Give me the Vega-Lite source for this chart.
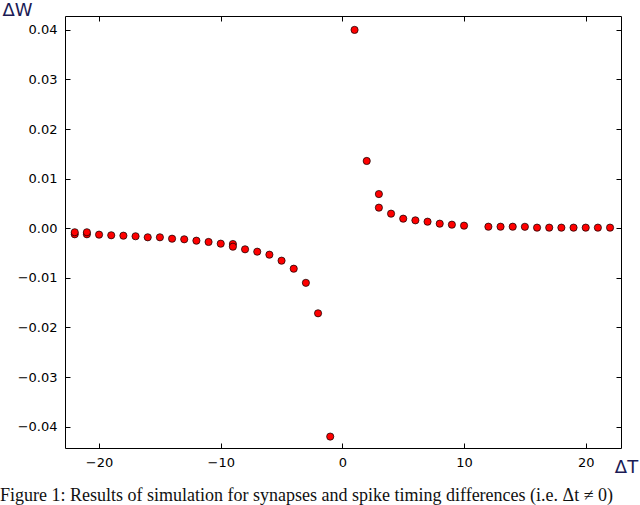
{
  "$schema": "https://vega.github.io/schema/vega-lite/v6.json",
  "width": 556,
  "height": 432,
  "autosize": "none",
  "padding": {"left": 65, "top": 16, "right": 19, "bottom": 57},
  "background": "white",
  "title": {
    "text": "Figure 1: Results of simulation for synapses and spike timing differences (i.e. Δt ≠ 0)",
    "orient": "bottom",
    "anchor": "start",
    "frame": "group",
    "font": "Liberation Serif",
    "fontSize": 18,
    "fontWeight": "normal",
    "color": "#111111",
    "dx": -65,
    "offset": 11
  },
  "data": {
    "values": [
      {"dt": -22, "dw": -0.00121}, {"dt": -22, "dw": -0.0008},
      {"dt": -21, "dw": -0.00121}, {"dt": -21, "dw": -0.0008},
      {"dt": -20, "dw": -0.00128},
      {"dt": -19, "dw": -0.00141},
      {"dt": -18, "dw": -0.00149},
      {"dt": -17, "dw": -0.00161},
      {"dt": -16, "dw": -0.00182},
      {"dt": -15, "dw": -0.00182},
      {"dt": -14, "dw": -0.0021},
      {"dt": -13, "dw": -0.00222},
      {"dt": -12, "dw": -0.0025},
      {"dt": -11, "dw": -0.00276},
      {"dt": -10, "dw": -0.0031},
      {"dt": -9, "dw": -0.00317}, {"dt": -9, "dw": -0.00371},
      {"dt": -8, "dw": -0.00424},
      {"dt": -7, "dw": -0.00472},
      {"dt": -6, "dw": -0.00532},
      {"dt": -5, "dw": -0.00653},
      {"dt": -4, "dw": -0.00815},
      {"dt": -3, "dw": -0.011},
      {"dt": -2, "dw": -0.01714},
      {"dt": -1, "dw": -0.042},
      {"dt": 1, "dw": 0.04},
      {"dt": 2, "dw": 0.01357},
      {"dt": 3, "dw": 0.0069}, {"dt": 3, "dw": 0.00416},
      {"dt": 4, "dw": 0.00295},
      {"dt": 5, "dw": 0.00194},
      {"dt": 6, "dw": 0.0016},
      {"dt": 7, "dw": 0.00133},
      {"dt": 8, "dw": 0.00093},
      {"dt": 9, "dw": 0.00073},
      {"dt": 10, "dw": 0.00053},
      {"dt": 12, "dw": 0.00032},
      {"dt": 13, "dw": 0.00032},
      {"dt": 14, "dw": 0.00032},
      {"dt": 15, "dw": 0.0003},
      {"dt": 16, "dw": 0.00013},
      {"dt": 17, "dw": 0.00013},
      {"dt": 18, "dw": 0.00013},
      {"dt": 19, "dw": 0.00013},
      {"dt": 20, "dw": 0.00013},
      {"dt": 21, "dw": 0.00013},
      {"dt": 22, "dw": 0.00013}
    ]
  },
  "layer": [
    {
      "mark": {"type": "point", "shape": "circle", "filled": true, "size": 52, "fill": "#ff0000", "stroke": "#000000", "strokeWidth": 0.7, "opacity": 1},
      "encoding": {
        "x": {
          "field": "dt", "type": "quantitative",
          "scale": {"domain": [-22.8, 22.9], "nice": false, "zero": false},
          "axis": {
            "orient": "bottom",
            "values": [-20, -10, 0, 10, 20],
            "format": "d",
            "title": "ΔT",
            "titleAngle": 0,
            "titleX": 561,
            "titleY": 24,
            "titleAlign": "center",
            "titleBaseline": "middle",
            "titleFont": "DejaVu Sans",
            "titleFontSize": 18,
            "titleFontWeight": "normal",
            "titleColor": "#1b1b55"
          }
        },
        "y": {
          "field": "dw", "type": "quantitative",
          "scale": {"domain": [-0.0443, 0.0428], "nice": false, "zero": false},
          "axis": {
            "orient": "left",
            "values": [-0.04, -0.03, -0.02, -0.01, 0, 0.01, 0.02, 0.03, 0.04],
            "format": ".2f",
            "title": "ΔW",
            "titleAngle": 0,
            "titleX": -53,
            "titleY": -6,
            "titleAlign": "center",
            "titleBaseline": "middle",
            "titleFont": "DejaVu Sans",
            "titleFontSize": 18,
            "titleFontWeight": "normal",
            "titleColor": "#1b1b55"
          }
        }
      }
    },
    {
      "mark": {"type": "point", "opacity": 0},
      "encoding": {
        "x": {"field": "dt", "type": "quantitative", "axis": {"orient": "top", "values": [-20, -10, 0, 10, 20], "labels": false, "title": null}},
        "y": {"field": "dw", "type": "quantitative", "axis": {"orient": "right", "values": [-0.04, -0.03, -0.02, -0.01, 0, 0.01, 0.02, 0.03, 0.04], "labels": false, "title": null}}
      }
    }
  ],
  "resolve": {"axis": {"x": "independent", "y": "independent"}},
  "config": {
    "view": {"stroke": "#000000", "strokeWidth": 1},
    "axis": {
      "domain": false,
      "grid": false,
      "ticks": true,
      "offset": -5,
      "tickSize": 5,
      "tickColor": "#000000",
      "tickWidth": 1,
      "labelFont": "DejaVu Sans",
      "labelFontSize": 13,
      "labelColor": "#000000",
      "labelPadding": 8
    }
  }
}
